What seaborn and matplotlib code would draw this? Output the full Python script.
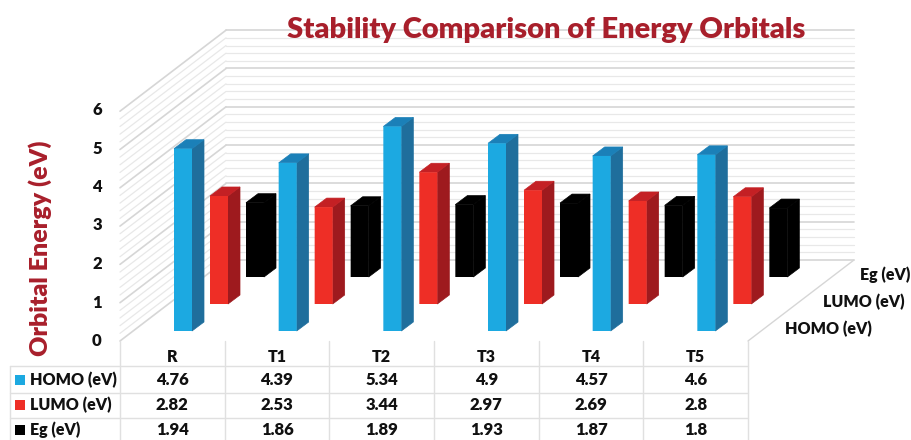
import numpy as np
import pandas as pd
import matplotlib.pyplot as plt
import seaborn as sns

# values from the table under the chart
categories = ['R', 'T1', 'T2', 'T3', 'T4', 'T5']
homo = [4.76, 4.39, 5.34, 4.9, 4.57, 4.6]
lumo = [2.82, 2.53, 3.44, 2.97, 2.69, 2.8]
eg = [1.94, 1.86, 1.89, 1.93, 1.87, 1.8]
series_names = ['HOMO (eV)', 'LUMO (eV)', 'Eg (eV)']
y_ticks = [0, 1, 2, 3, 4, 5, 6]

W, H = 911, 440
PX_PER_EV = 38.3
TITLE_RED = '#A81F2B'
TEXT_WEIGHT = 'heavy'

sns.set_theme(style='white')
plt.rcParams['font.family'] = ['Lato', 'DejaVu Sans']

fig = plt.figure(figsize=(W / 100, H / 100), dpi=100)

# background axes in pixels, for the walls, floor, labels and table
bg = fig.add_axes([0, 0, 1, 1])
bg.set_xlim(0, W)
bg.set_ylim(H, 0)
bg.axis('off')

x_left, x_back, x_end, x_right = 120, 226, 748, 854
y_front, y_back = 341, 260

for v in np.arange(0, 6.01, 0.2):
    major = abs(v - round(v)) < 1e-6
    col = '#d6d6d6' if major else '#e8e8e8'
    lw = 1.2 if major else 0.9
    if v > 0:
        bg.plot([x_back, x_right], [y_back - PX_PER_EV * v] * 2, color=col, lw=lw, zorder=1)
    bg.plot([x_left, x_back], [y_front - PX_PER_EV * v, y_back - PX_PER_EV * v], color=col, lw=lw, zorder=1)

# floor edges
bg.plot([x_back, x_right], [y_back, y_back], color='#d6d6d6', lw=1.2, zorder=1)
bg.plot([x_end, x_right], [y_front, y_back], color='#d6d6d6', lw=1.0, zorder=1)

# title and axis text
bg.text(546, 30, 'Stability Comparison of Energy Orbitals', color=TITLE_RED,
        fontsize=21, fontweight=TEXT_WEIGHT, ha='center', va='center', zorder=5)
bg.text(40, 248, 'Orbital Energy (eV)', color=TITLE_RED, fontsize=18, fontweight=TEXT_WEIGHT,
        rotation=90, ha='center', va='center')
for t in y_ticks:
    bg.text(97, 341 - 38.5 * t, str(t), color='#111111', fontsize=12, fontweight=TEXT_WEIGHT,
            ha='center', va='center')

# depth axis labels
for name, xr, yc in zip(series_names, [872, 905, 910], [329, 302, 275]):
    bg.text(xr, yc, name, color='#111111', fontsize=11.5, fontweight=TEXT_WEIGHT, ha='right', va='center')

# table under the chart
col_edges = np.linspace(x_left, x_end, len(categories) + 1)
row_lines = [366, 393, 418]
row_centers = [380, 405, 430]
line_col = '#e0e0e0'
for x in col_edges:
    bg.plot([x, x], [341, H], color=line_col, lw=1.0)
bg.plot([10, 10], [366, H], color=line_col, lw=1.0)
for y in row_lines:
    bg.plot([10, x_end], [y, y], color=line_col, lw=1.0)

front_cols = ['#1CA9E1', '#EE2E26', '#000000']
side_cols = ['#1F6E9C', '#9E1A1E', '#000000']
top_cols = ['#1B80B8', '#C42024', '#000000']
all_values = [homo, lumo, eg]

for j, cat in enumerate(categories):
    xc = (col_edges[j] + col_edges[j + 1]) / 2
    bg.text(xc, 357, cat, color='#111111', fontsize=11.5, fontweight=TEXT_WEIGHT, ha='center', va='center')
for name, vals, yc, c in zip(series_names, all_values, row_centers, front_cols):
    bg.add_patch(plt.Rectangle((15, yc - 5), 10, 10, color=c, lw=0))
    bg.text(30, yc, name, color='#111111', fontsize=11.5, fontweight=TEXT_WEIGHT, ha='left', va='center')
    for j, v in enumerate(vals):
        xc = (col_edges[j] + col_edges[j + 1]) / 2
        bg.text(xc, yc, str(v), color='#111111', fontsize=12, fontweight=TEXT_WEIGHT, ha='center', va='center')

# bars: one transparent axes per depth row, back row first
col_w = col_edges[1] - col_edges[0]
bar_w, depth_x, depth_y = 18, 12, 9
rows = [(2, 255, 277), (1, 219, 304), (0, 183, 331)]
for idx, first_center, base in rows:
    left = first_center - col_w / 2
    ax = fig.add_axes([left / W, 1 - base / H, col_w * 6 / W, PX_PER_EV * 6 / H])
    df = pd.DataFrame({'sample': categories, 'value': all_values[idx]})
    sns.barplot(data=df, x='sample', y='value', color=front_cols[idx], saturation=1,
                width=bar_w / col_w, linewidth=0, ax=ax, zorder=3)
    dx = depth_x / col_w
    dy = depth_y / PX_PER_EV
    # side and top faces come from the drawn bars
    for p in list(ax.patches):
        p.set_snap(False)
        x0 = p.get_x()
        x1 = x0 + p.get_width()
        h = p.get_height()
        # thin same-colour edge closes the seam between faces
        ax.fill([x1, x1 + dx, x1 + dx, x1], [0, dy, h + dy, h], facecolor=side_cols[idx],
                edgecolor=side_cols[idx], lw=0.5, zorder=2, clip_on=False)
        ax.fill([x0, x1, x1 + dx, x0 + dx], [h, h, h + dy, h + dy], facecolor=top_cols[idx],
                edgecolor=top_cols[idx], lw=0.5, zorder=2, clip_on=False)
    ax.set_xlim(-0.5, 5.5)
    ax.set_ylim(0, 6)
    ax.patch.set_alpha(0)
    ax.axis('off')

fig.savefig('out.png', dpi=100)
